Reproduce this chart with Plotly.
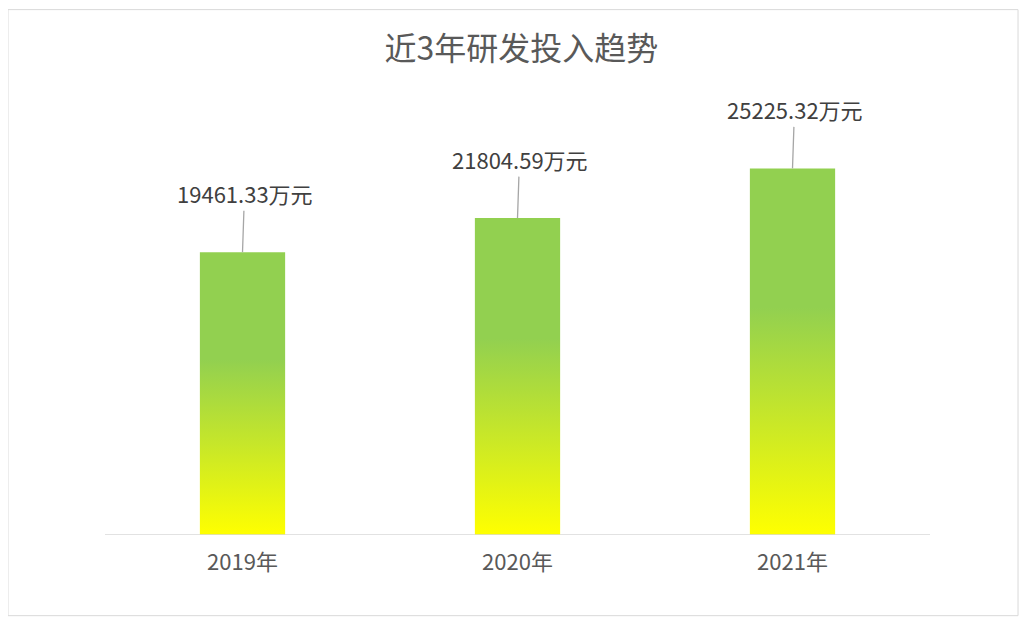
import plotly.graph_objects as go

years = ["2019年", "2020年", "2021年"]
values = [19461.33, 21804.59, 25225.32]
labels = ["19461.33万元", "21804.59万元", "25225.32万元"]

half = 0.155
fig = go.Figure()
for i, v in enumerate(values):
    fig.add_trace(go.Scatter(
        x=[i - half, i + half, i + half, i - half, i - half],
        y=[0, 0, v, v, 0],
        fill="toself", mode="lines", line=dict(width=0),
        fillgradient=dict(type="vertical",
                          colorscale=[[0, "#ffff00"], [0.62, "#92d050"], [1, "#92d050"]]),
        hoverinfo="skip", showlegend=False))
    fig.add_annotation(x=i, y=v, text=labels[i], showarrow=True, arrowhead=0,
                       arrowcolor="#a6a6a6", arrowwidth=1.3, ax=2, ay=-59, standoff=0,
                       font=dict(size=22, color="#404040"))

fig.update_layout(
    width=1027, height=623, paper_bgcolor="white", plot_bgcolor="white",
    margin=dict(l=97, r=105, t=91, b=96),
    font=dict(family="Noto Sans CJK SC, Noto Sans, sans-serif"),
    title=dict(text="近3年研发投入趋势", x=0.5, xanchor="center", y=0.935, yanchor="middle",
               font=dict(size=32, color="#595959")),
    xaxis=dict(range=[-0.5, 2.5], tickvals=[0, 1, 2], ticktext=years, showgrid=False,
               zeroline=False, tickfont=dict(size=22, color="#595959"), ticks="",
               ticklabelstandoff=12),
    yaxis=dict(range=[0, 30000], visible=False),
    shapes=[dict(type="line", xref="paper", yref="y", x0=0, x1=1, y0=0, y1=0,
                 line=dict(color="#d9d9d9", width=1.5)),
            dict(type="rect", xref="paper", yref="paper", x0=-0.1176, x1=1.1067,
                 y0=-0.185, y1=1.205, line=dict(color="#d9d9d9", width=1))],
)
fig.write_html("out.html")
